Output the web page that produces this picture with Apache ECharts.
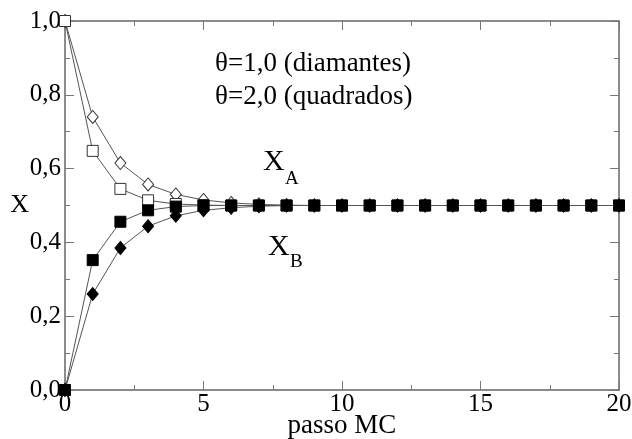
<!DOCTYPE html>
<html><head><meta charset="utf-8">
<script src="https://cdn.jsdelivr.net/npm/echarts@6/dist/echarts.min.js"></script>
<style>html,body{margin:0;padding:0;background:#fff}#c{width:632px;height:439px}</style>
</head><body><div id="c"></div>
<script>
const steps = [0,1,2,3,4,5,6,7,8,9,10,11,12,13,14,15,16,17,18,19,20];
const diamondsA = [1.0,0.740,0.615,0.557,0.530,0.515,0.507,0.503,0.501,0.5,0.5,0.5,0.5,0.5,0.5,0.5,0.5,0.5,0.5,0.5,0.5];
const squaresA  = [1.0,0.648,0.545,0.514,0.504,0.501,0.5,0.5,0.5,0.5,0.5,0.5,0.5,0.5,0.5,0.5,0.5,0.5,0.5,0.5,0.5];
const diamondsB = [0.0,0.260,0.385,0.444,0.472,0.487,0.494,0.498,0.5,0.5,0.5,0.5,0.5,0.5,0.5,0.5,0.5,0.5,0.5,0.5,0.5];
const squaresB  = [0.0,0.352,0.456,0.487,0.497,0.5,0.5,0.5,0.5,0.5,0.5,0.5,0.5,0.5,0.5,0.5,0.5,0.5,0.5,0.5,0.5];

const F = '"Liberation Serif", "Times New Roman", serif';
const pairs = v => steps.map((s,i)=>[s,v[i]]);
const axisCol = '#666';
function mkSeries(name, vals, symbol, size, filled){
  return {name, type:'line', data:pairs(vals), symbol, symbolSize:size,
    lineStyle:{color:'#555', width:1}, showSymbol:true,
    itemStyle:{color: filled ? '#000' : '#fff', borderColor: filled ? '#000' : '#333', borderWidth:1, opacity:1},
    z: filled ? 3 : 2, animation:false, emphasis:{disabled:true}};
}
function tick(){ return {show:true, inside:true, length:9, lineStyle:{color:'#777', width:1}}; }
function minor(){ return {show:true, splitNumber:2, length:5, lineStyle:{color:'#777', width:1}}; }
function line(){ return {show:true, onZero:false, lineStyle:{color:axisCol, width:1.5}}; }
const chart = echarts.init(document.getElementById('c'), null, {renderer:'canvas'});
chart.setOption({
  animation:false,
  grid:{left:65, right:13, top:21, bottom:49, containLabel:false, outerBoundsMode:'none'},
  xAxis:[{type:'value', min:0, max:20, interval:5,
    name:'passo MC', nameLocation:'middle', nameGap:22, nameMoveOverlap:false,
    nameTextStyle:{fontFamily:F, fontSize:27, color:'#000'},
    axisLine:line(), axisTick:tick(), minorTick:minor(), splitLine:{show:false},
    axisLabel:{fontFamily:F, fontSize:25, color:'#000', margin:2}},
   {type:'value', position:'top', min:0, max:20, interval:5,
    axisLine:line(), axisTick:tick(), minorTick:minor(),
    splitLine:{show:false}, axisLabel:{show:false}}],
  yAxis:[{type:'value', min:0, max:1, interval:0.2,
    name:'X', nameLocation:'middle', nameGap:36, nameRotate:0, nameMoveOverlap:false,
    nameTextStyle:{fontFamily:F, fontSize:26, color:'#000'},
    axisLine:line(), axisTick:tick(), minorTick:minor(), splitLine:{show:false},
    axisLabel:{fontFamily:F, fontSize:25, color:'#000', margin:4,
      formatter:v=>v.toFixed(1).replace('.',',')}},
   {type:'value', position:'right', min:0, max:1, interval:0.2,
    axisLine:line(), axisTick:tick(), minorTick:minor(),
    splitLine:{show:false}, axisLabel:{show:false}}],
  series:[
    mkSeries('θ=1,0 X_A', diamondsA, 'diamond', [11,13], false),
    mkSeries('θ=2,0 X_A', squaresA, 'rect', 11, false),
    mkSeries('θ=1,0 X_B', diamondsB, 'diamond', [11,13], true),
    mkSeries('θ=2,0 X_B', squaresB, 'rect', 11, true)
  ],
  graphic:[
    {type:'text', x:215, y:64, style:{text:'θ=1,0 (diamantes)', font:'27px '+F, fill:'#000', verticalAlign:'middle'}},
    {type:'text', x:215, y:97, style:{text:'θ=2,0 (quadrados)', font:'27px '+F, fill:'#000', verticalAlign:'middle'}},
    {type:'text', x:263, y:162, style:{text:'X', font:'30px '+F, fill:'#000', verticalAlign:'middle'}},
    {type:'text', x:285, y:179, style:{text:'A', font:'19px '+F, fill:'#000', verticalAlign:'middle'}},
    {type:'text', x:268, y:247, style:{text:'X', font:'30px '+F, fill:'#000', verticalAlign:'middle'}},
    {type:'text', x:290, y:262, style:{text:'B', font:'19px '+F, fill:'#000', verticalAlign:'middle'}}
  ]
});
</script></body></html>
